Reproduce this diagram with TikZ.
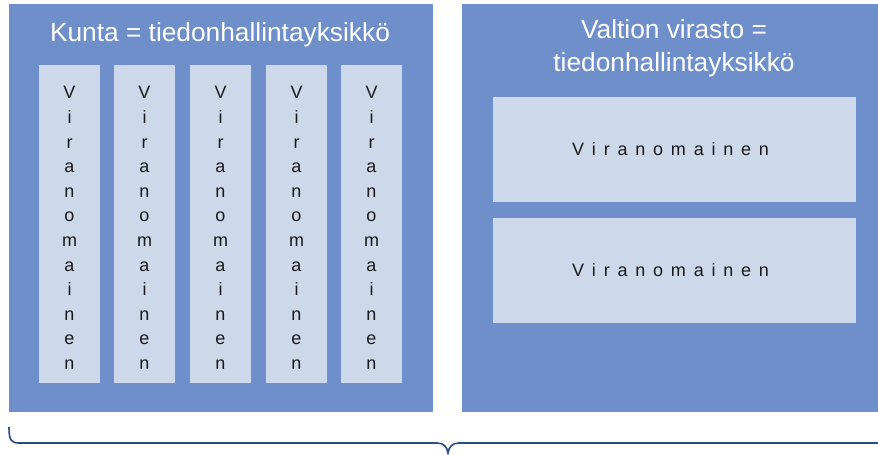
\documentclass[tikz,border=0pt]{standalone}
\usepackage{fontspec}
\setmainfont{Liberation Sans}
\definecolor{outerblue}{HTML}{6F8FCB}
\definecolor{innerblue}{HTML}{CDD8EB}
\definecolor{bracecol}{HTML}{2A4A88}
\definecolor{txt}{HTML}{1A1A1A}
\newcommand{\vword}{V\\i\\r\\a\\n\\o\\m\\a\\i\\n\\e\\n}
\newcommand{\hword}{V\kern7.8pt i\kern7.8pt r\kern7.8pt a\kern7.8pt n\kern7.8pt o\kern7.8pt m\kern7.8pt a\kern7.8pt i\kern7.8pt n\kern7.8pt e\kern7.8pt n}
\begin{document}
\begin{tikzpicture}[x=1pt,y=-1pt,
  outerbox/.style={fill=outerblue,draw=none,inner sep=0pt,minimum width=#1},
  innerbox/.style={fill=innerblue,draw=none,inner sep=0pt},
  titletxt/.style={text=white,font=\fontsize{26.3}{33}\selectfont,inner sep=0pt,anchor=base},
  vtxt/.style={text=txt,font=\fontsize{18}{24.6}\selectfont,align=center,inner sep=0pt},
  htxt/.style={text=txt,font=\fontsize{18}{22}\selectfont,inner sep=0pt},
  bracestyle/.style={draw=bracecol,line width=1.6pt}]
\useasboundingbox (0,0) rectangle (878,455);
% outer boxes
\node[outerbox=424pt,minimum height=408pt] (kunta) at (221,208) {};
\node[outerbox=416pt,minimum height=408pt] (valtio) at (670,208) {};
% titles
\node[titletxt] (kuntaT) at (220,41) {Kunta = tiedonhallintayksikkö};
\node[titletxt] (valtioT1) at (674,38) {Valtion virasto =};
\node[titletxt] (valtioT2) at (674,71) {tiedonhallintayksikkö};
% vertical authority boxes
\foreach \i/\x in {1/69.5,2/144.5,3/220.5,4/296.5,5/371.5}{
  \node[innerbox,minimum width=61pt,minimum height=318pt] (v\i) at (\x,224) {};
  \node[vtxt] (vt\i) at (\x,228) {\vword};
}
% horizontal authority boxes
\node[innerbox,minimum width=363pt,minimum height=105pt] (h1) at (674.5,149.5) {};
\node[htxt] (ht1) at ([xshift=-3.9pt]h1.center) {\hword};
\node[innerbox,minimum width=363pt,minimum height=105pt] (h2) at (674.5,270.5) {};
\node[htxt] (ht2) at ([xshift=-3.9pt]h2.center) {\hword};
% brace
\coordinate (bL) at (9,427);
\coordinate (bM) at (448,453);
\coordinate (bR) at (878,443);
\draw[bracestyle] (bL) .. controls (9,440) and (11,443) .. (19,443) -- (437,443)
  .. controls (444,443) and (447,447) .. (bM)
  .. controls (449,447) and (452,443) .. (459,443) -- (bR);
\end{tikzpicture}
\end{document}
